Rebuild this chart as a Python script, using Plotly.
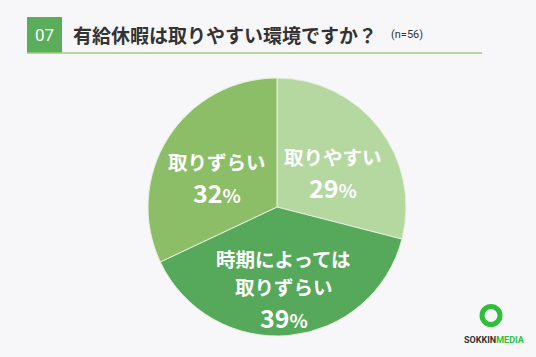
import math
import plotly.graph_objects as go

labels = ["取りやすい", "時期によっては<br>取りずらい", "取りずらい"]
values = [29, 39, 32]
colors = ["#b4d89f", "#56a95b", "#8bbe66"]
title = "有給休暇は取りやすい環境ですか？"
number = "07"
n_text = "(n=56)"

W, H = 536, 357
FONT = "Noto Sans CJK JP"

def px(x):
    return x / W

def py(y):
    return 1 - y / H

# pie geometry (pixels)
CX, CY, R = 277, 207, 129

fig = go.Figure(go.Pie(
    labels=labels,
    values=values,
    textinfo="none",
    sort=False,
    direction="clockwise",
    rotation=0,
    marker=dict(colors=colors, line=dict(color="#e6f0de", width=1)),
    domain=dict(x=[px(CX - R), px(CX + R)], y=[py(CY + R), py(CY - R)]),
    hoverinfo="skip",
    showlegend=False,
))

# slice labels placed at each slice's mid angle (derived from the values)
annotations = []
total = sum(values)
cum = 0
LABEL_GAP, PCT_GAP = 28, 30
for lab, v in zip(labels, values):
    mid = (cum + v / 2) / total * 2 * math.pi
    cum += v
    f = 0.55
    x = CX + f * R * math.sin(mid)
    yc = CY - f * R * math.cos(mid) + 8
    lines = lab.split("<br>")
    span = LABEL_GAP * (len(lines) - 1) + PCT_GAP
    y0 = yc - span / 2 + 2 * (len(lines) - 1)
    for i, ln in enumerate(lines):
        annotations.append(dict(text=f"<b>{ln}</b>", x=px(x), y=py(y0 + i * LABEL_GAP),
                                xref="paper", yref="paper", showarrow=False, borderpad=0,
                                xanchor="center", yanchor="middle",
                                font=dict(family=FONT, size=19.5, color="white")))
    pct = f"<b>{v}<span style='font-size:19px'>%</span></b>"
    annotations.append(dict(text=pct, x=px(x), y=py(y0 + span), xref="paper", yref="paper",
                            showarrow=False, xanchor="center", yanchor="middle", borderpad=0,
                            font=dict(family=FONT, size=25, color="white")))

shapes = [
    dict(type="rect", xref="paper", yref="paper", x0=px(27), x1=px(62), y0=py(53), y1=py(17),
         fillcolor="#5aad5b", line=dict(width=0), layer="below"),
    dict(type="line", xref="paper", yref="paper", x0=px(27), x1=px(482), y0=py(53), y1=py(53),
         line=dict(color="#9dd07c", width=1.5)),
    dict(type="circle", xref="paper", yref="paper", x0=px(482), x1=px(500), y0=py(324.5), y1=py(306.5),
         line=dict(color="#2fbf3a", width=5), fillcolor="rgba(0,0,0,0)"),
]

annotations += [
    dict(text=number, x=px(44.5), y=py(35.5), xref="paper", yref="paper", showarrow=False,
         font=dict(family="Roboto", size=17, color="white"), xanchor="center", yanchor="middle"),
    dict(text=f"<b>{title}</b>", x=px(71), y=py(35), xref="paper", yref="paper", showarrow=False,
         font=dict(family=FONT, size=19, color="#333333"), xanchor="left", yanchor="middle"),
    dict(text=n_text, x=px(389), y=py(35), xref="paper", yref="paper", showarrow=False,
         font=dict(family="Roboto", size=11, color="#333333"), xanchor="left", yanchor="middle"),
    dict(text="<b><span style='color:#333333'>SOKKIN</span><span style='color:#2fbf3a'>MEDIA</span></b>",
         x=px(494), y=py(340), xref="paper", yref="paper", showarrow=False,
         font=dict(family="Roboto", size=9), xanchor="center", yanchor="middle"),
]

fig.update_layout(
    width=W, height=H,
    margin=dict(l=0, r=0, t=0, b=0),
    paper_bgcolor="#f7f7f9",
    plot_bgcolor="#f7f7f9",
    shapes=shapes,
    annotations=annotations,
)

fig.write_html("out.html", config={"displayModeBar": False},
               post_script="document.body.style.margin='0';document.body.style.overflow='hidden';")
